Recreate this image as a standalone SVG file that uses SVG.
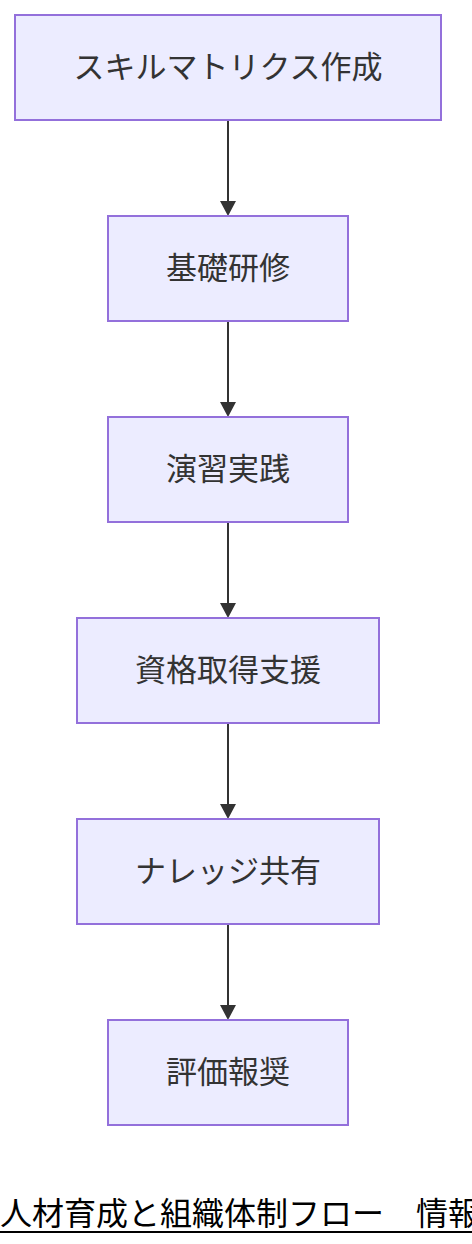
<svg xmlns="http://www.w3.org/2000/svg" width="472" height="1244" viewBox="0 0 472 1244">
<style>
.node rect{fill:#ECECFF;stroke:#9370DB;stroke-width:2}
.node text{font-family:"Noto Sans CJK JP","Noto Sans",sans-serif;font-size:31px;fill:#333;text-anchor:middle}
.edge{stroke:#333;stroke-width:2;fill:none}
.head{fill:#333}
.title{font-family:"Noto Sans CJK JP","Noto Sans",sans-serif;font-size:32px;fill:#000}
</style>
<rect width="472" height="1244" fill="#fff"/>
<g id="edges">
<path class="edge" d="M228,120 V203"/><path class="head" d="M220,201 L236,201 L228,216 z"/>
<path class="edge" d="M228,321 V404"/><path class="head" d="M220,402 L236,402 L228,417 z"/>
<path class="edge" d="M228,522 V605"/><path class="head" d="M220,603 L236,603 L228,618 z"/>
<path class="edge" d="M228,723 V806"/><path class="head" d="M220,804 L236,804 L228,819 z"/>
<path class="edge" d="M228,924 V1007"/><path class="head" d="M220,1005 L236,1005 L228,1020 z"/>
</g>
<g id="n1" class="node"><rect x="15" y="15" width="426" height="105"/><text x="228" y="78">スキルマトリクス作成</text></g>
<g id="n2" class="node"><rect x="108" y="216" width="240" height="105"/><text x="228" y="279">基礎研修</text></g>
<g id="n3" class="node"><rect x="108" y="417" width="240" height="105"/><text x="228" y="480">演習実践</text></g>
<g id="n4" class="node"><rect x="77" y="618" width="302" height="105"/><text x="228" y="681">資格取得支援</text></g>
<g id="n5" class="node"><rect x="77" y="819" width="302" height="105"/><text x="228" y="882">ナレッジ共有</text></g>
<g id="n6" class="node"><rect x="108" y="1020" width="240" height="105"/><text x="228" y="1083">評価報奨</text></g>
<g id="title">
<text class="title" x="0" y="1225">人材育成と組織体制フロー　情報</text>
<line x1="0" y1="1232" x2="472" y2="1232" stroke="#000" stroke-width="2"/>
</g>
</svg>
